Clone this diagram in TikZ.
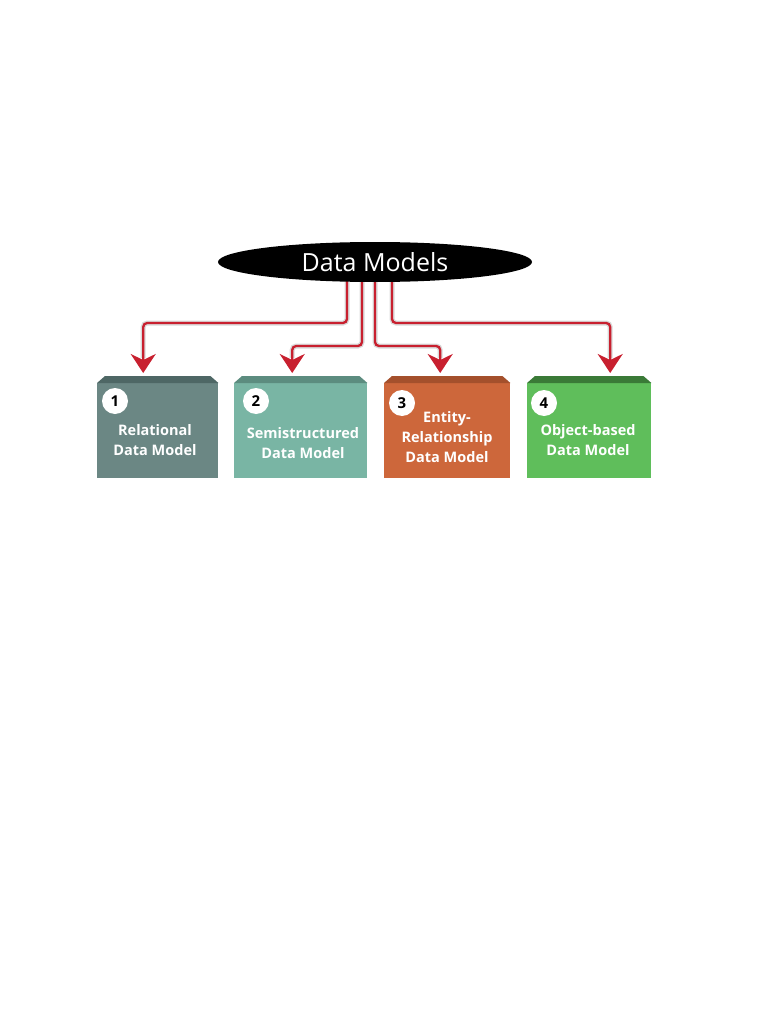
\documentclass[tikz,border=0pt]{standalone}
\usepackage{fontspec}
\setmainfont{Open Sans}
\usetikzlibrary{arrows.meta,shapes.geometric}
\definecolor{conred}{HTML}{C8202F}
\definecolor{shad}{HTML}{D9D9D9}
\definecolor{bxa}{HTML}{6B8784}\definecolor{bva}{HTML}{4E6765}
\definecolor{bxb}{HTML}{79B5A4}\definecolor{bvb}{HTML}{5C8C7F}
\definecolor{bxc}{HTML}{CD673B}\definecolor{bvc}{HTML}{A4502C}
\definecolor{bxd}{HTML}{5FBE5B}\definecolor{bvd}{HTML}{3A7A37}
\tikzset{
  conn/.style={draw=conred,line width=2.3pt,rounded corners=4pt,-{Stealth[length=19pt,width=25pt,inset=6pt]}},
  connshadow/.style={draw=shad,line width=5pt,rounded corners=4pt},
  modelbox/.style={rectangle,minimum width=121pt,minimum height=95pt,inner sep=0pt,anchor=north west},
  numcirc/.style={circle,fill=white,minimum size=26pt,inner sep=0pt,font=\fontsize{15}{15}\selectfont\bfseries,text=black},
  boxtext/.style={align=center,text=white,font=\fontsize{14.5}{20}\selectfont\bfseries},
}
\begin{document}
\begin{tikzpicture}[x=1pt,y=-1pt]
\useasboundingbox (0,0) rectangle (768,1024);
% boxes
\node[modelbox,fill=bxa,minimum width=121pt] (b1) at (97,383) {};
\node[modelbox,fill=bxb,minimum width=133pt] (b2) at (234,383) {};
\node[modelbox,fill=bxc,minimum width=126pt] (b3) at (384,383) {};
\node[modelbox,fill=bxd,minimum width=124pt] (b4) at (527,383) {};
\foreach \b/\c in {b1/bva,b2/bvb,b3/bvc,b4/bvd}{
  \fill[\c] (\b.north west) -- ([xshift=8pt,yshift=7pt]\b.north west) -- ([xshift=-8pt,yshift=7pt]\b.north east) -- (\b.north east) -- cycle;
}
% numbers
\node[numcirc] (n1) at (115,401) {1};
\node[numcirc] (n2) at (256,401) {2};
\node[numcirc] (n3) at (402,403) {3};
\node[numcirc] (n4) at (544,403) {4};
% texts
\node[boxtext] (t1) at (155,440) {Relational\\Data Model};
\node[boxtext] (t2) at (303,443) {Semistructured\\Data Model};
\node[boxtext] (t3) at (447,437) {Entity-\\Relationship\\Data Model};
\node[boxtext] (t4) at (588,440) {Object-based\\Data Model};
% connector start points
\coordinate (s1) at (347,276);
\coordinate (s2) at (362,278);
\coordinate (s3) at (375,278);
\coordinate (s4) at (392,276);
% shadows
\draw[connshadow] (s1) -- ++(0,47) -| ([xshift=-14.5pt,yshift=25pt]b1.north);
\draw[connshadow] (s2) -- ++(0,68) -| ([xshift=-8.5pt,yshift=25pt]b2.north);
\draw[connshadow] (s3) -- ++(0,68) -| ([xshift=-7pt,yshift=25pt]b3.north);
\draw[connshadow] (s4) -- ++(0,47) -| ([xshift=21pt,yshift=25pt]b4.north);
% connectors
\draw[conn] (s1) -- ++(0,47) -| ([xshift=-14.5pt,yshift=10pt]b1.north);
\draw[conn] (s2) -- ++(0,68) -| ([xshift=-8.5pt,yshift=10pt]b2.north);
\draw[conn] (s3) -- ++(0,68) -| ([xshift=-7pt,yshift=10pt]b3.north);
\draw[conn] (s4) -- ++(0,47) -| ([xshift=21pt,yshift=10pt]b4.north);
% ellipse
\node[ellipse,fill=black,minimum width=314pt,minimum height=40pt,inner sep=0pt,text=white,font=\fontsize{25}{25}\selectfont] (dm) at (375,262) {Data Models};
\end{tikzpicture}
\end{document}
